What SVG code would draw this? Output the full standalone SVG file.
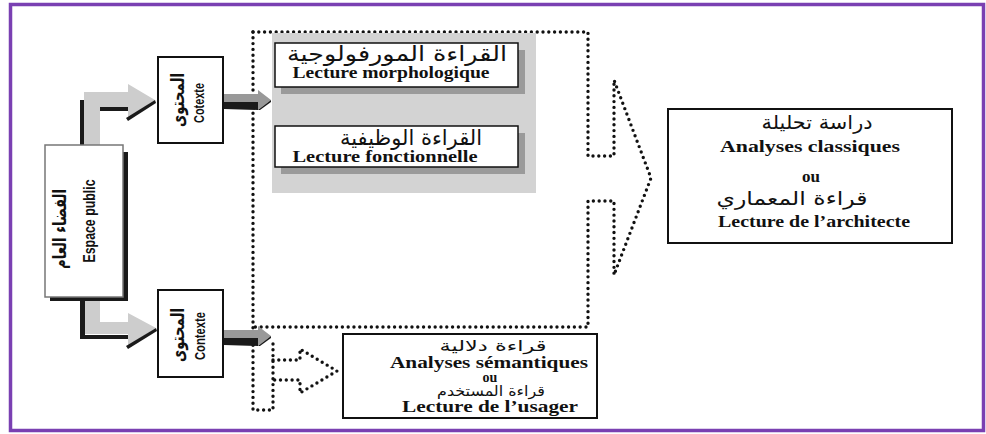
<svg xmlns="http://www.w3.org/2000/svg" width="986" height="434" viewBox="0 0 986 434">
<style>
.frame{fill:#fff;stroke:#7a40b2;stroke-width:3.5}
.dot{fill:none;stroke:#111;stroke-width:3.4;stroke-dasharray:0 5.8;stroke-linecap:round;stroke-linejoin:round}
.box{fill:#fff;stroke:#111;stroke-width:2}
.lat{font-family:"Liberation Serif","Times New Roman",serif;font-weight:bold;fill:#111;text-anchor:middle}
.ar{font-family:"DejaVu Sans","Noto Sans",sans-serif;fill:#111;text-anchor:middle}
.nar{font-family:"Liberation Sans","DejaVu Sans",sans-serif;font-weight:bold;fill:#111;text-anchor:middle}
.grey{fill:#cdcdcd}
.dark{fill:#1a1a1a}
</style>
<rect class="frame" x="10.5" y="4.5" width="973" height="426"/>

<g id="connectors">
  <path class="dot" d="M253,32 H588 V156 H614 V80 L651,178 L614,275 V201 H588 V327 H253"/>
  <path class="dot" d="M253,32 V410 H273 V340"/>
  <path class="dot" d="M273,360 H300 V349 L337,371 L300,393 V380 H273"/>
  <polygon class="dark" points="80,100 84,100 84,143 98,143 98,147 80,147"/>
  <polygon class="grey" points="84,145 84,92 128,92 128,84 155,100 128,118 128,108 100,108 100,145"/>
  <polygon class="dark" points="100,107 128,107 128,111 100,111"/>
  <polygon class="dark" points="126,118 155,100 156,103 128,121"/>
  <polygon class="dark" points="80,296 85,296 85,335 128,335 128,339 80,339"/>
  <polygon class="grey" points="85,297 100,297 100,322 128,322 128,313 156,328 128,346 128,334 85,334"/>
  <polygon class="dark" points="126,346 156,328 157,331 128,349"/>
  <polygon fill="#999" points="224,94 258,94 258,90 271,100 258,110 258,106 224,106"/>
  <polygon class="dark" points="224,102 258,102 258,110 271,100 271,102 260,110 224,109"/>
  <polygon fill="#999" points="224,330 258,330 258,326 271,336 258,346 258,342 224,342"/>
  <polygon class="dark" points="224,338 258,338 258,346 271,336 271,338 260,346 224,345"/>
</g>

<g id="espace-public">
  <rect x="123" y="152" width="5" height="149" class="dark"/>
  <rect x="50" y="296" width="78" height="5" class="dark"/>
  <rect x="45" y="145" width="78" height="152" fill="#fff" stroke="#777" stroke-width="1.5"/>
  <text class="ar" font-size="18" font-weight="bold" transform="translate(66,229) rotate(-90)" textLength="80" lengthAdjust="spacingAndGlyphs">الفضاء العام</text>
  <text class="nar" font-size="16" transform="translate(95,221) rotate(-90)" textLength="83" lengthAdjust="spacingAndGlyphs">Espace public</text>
</g>

<g id="cotexte">
  <rect class="box" x="158" y="57" width="65" height="86"/>
  <text class="ar" font-size="18" font-weight="bold" transform="translate(184,100) rotate(-90)" textLength="54" lengthAdjust="spacingAndGlyphs">المحتوى</text>
  <text class="nar" font-size="15" transform="translate(204,103) rotate(-90)" textLength="40" lengthAdjust="spacingAndGlyphs">Cotexte</text>
</g>

<g id="contexte">
  <rect class="box" x="158" y="290" width="65" height="87"/>
  <text class="ar" font-size="18" font-weight="bold" transform="translate(184,335) rotate(-90)" textLength="54" lengthAdjust="spacingAndGlyphs">المحتوى</text>
  <text class="nar" font-size="15" transform="translate(205,336) rotate(-90)" textLength="48" lengthAdjust="spacingAndGlyphs">Contexte</text>
</g>

<g id="panel">
  <rect x="272" y="33" width="264" height="160" fill="#d3d3d3"/>
</g>

<g id="morpho">
  <rect x="281" y="50" width="244" height="44" fill="#9a9a9a"/>
  <rect x="275" y="43" width="243" height="44" fill="#fff" stroke="#111" stroke-width="1.5"/>
  <text class="ar" font-size="21" x="397" y="61" textLength="220" lengthAdjust="spacingAndGlyphs">القراءة المورفولوجية</text>
  <text class="lat" font-size="16" x="391" y="78" textLength="197" lengthAdjust="spacingAndGlyphs">Lecture morphologique</text>
</g>

<g id="fonction">
  <rect x="281" y="133" width="244" height="41" fill="#9a9a9a"/>
  <rect x="275" y="126" width="243" height="41" fill="#fff" stroke="#111" stroke-width="1.5"/>
  <text class="ar" font-size="21" x="411" y="145" textLength="142" lengthAdjust="spacingAndGlyphs">القراءة الوظيفية</text>
  <text class="lat" font-size="16" x="385" y="162" textLength="185" lengthAdjust="spacingAndGlyphs">Lecture fonctionnelle</text>
</g>

<g id="architecte">
  <rect class="box" x="668" y="109" width="284" height="134"/>
  <text class="ar" font-size="19" x="817" y="129" textLength="111" lengthAdjust="spacingAndGlyphs">دراسة تحليلة</text>
  <text class="lat" font-size="17" x="810" y="152" textLength="180" lengthAdjust="spacingAndGlyphs">Analyses classiques</text>
  <text class="lat" font-size="17" x="811" y="182">ou</text>
  <text class="ar" font-size="19" x="792" y="205" textLength="151" lengthAdjust="spacingAndGlyphs">قراءة المعماري</text>
  <text class="lat" font-size="17" x="814" y="227" textLength="192" lengthAdjust="spacingAndGlyphs">Lecture de l’architecte</text>
</g>

<g id="usager">
  <rect class="box" x="343" y="334" width="254" height="84"/>
  <text class="ar" font-size="15" x="493" y="351" textLength="107" lengthAdjust="spacingAndGlyphs">قراءة دلالية</text>
  <text class="lat" font-size="16" x="489" y="368" textLength="198" lengthAdjust="spacingAndGlyphs">Analyses sémantiques</text>
  <text class="lat" font-size="14" x="490" y="382">ou</text>
  <text class="ar" font-size="14" x="491" y="396" textLength="108" lengthAdjust="spacingAndGlyphs">قراءة المستخدم</text>
  <text class="lat" font-size="16" x="490" y="412" textLength="176" lengthAdjust="spacingAndGlyphs">Lecture de l’usager</text>
</g>
</svg>
